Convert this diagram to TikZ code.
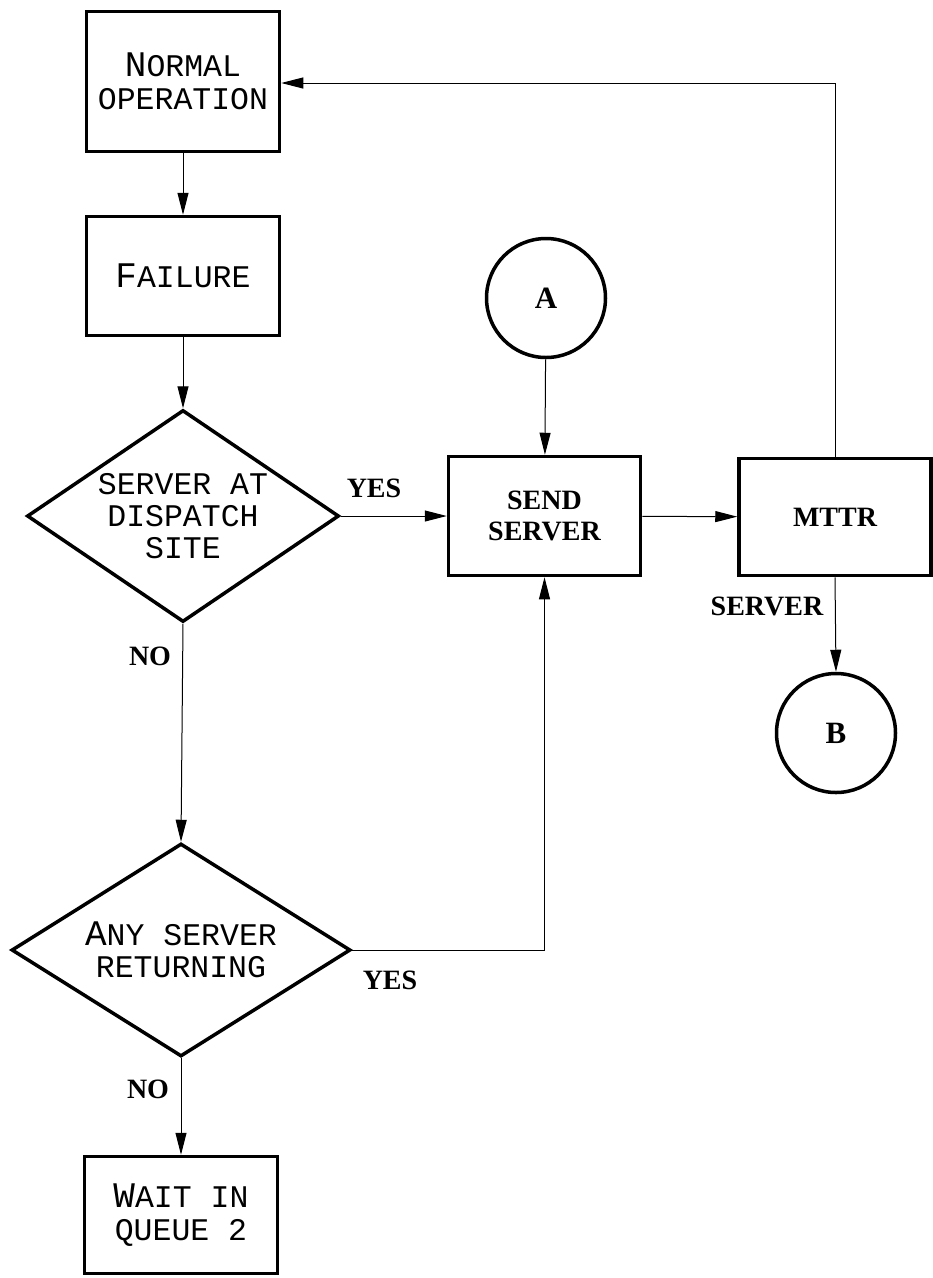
\documentclass[tikz,border=0pt]{standalone}
\usepackage{fontspec}
\setmainfont{Liberation Serif}
\newfontfamily\courfont{Liberation Mono}
\usetikzlibrary{arrows.meta,shapes.geometric}
\newcommand\bigfirst[1]{{\fontsize{36}{33}\selectfont #1}}
\begin{document}
\begin{tikzpicture}[x=1pt,y=-1pt,
  box/.style={draw, line width=3.5pt, minimum width=193pt, inner sep=0pt, align=center,
    font=\courfont\fontsize{31.5}{33}\selectfont},
  tbox/.style={draw, line width=3.5pt, minimum width=192pt, inner sep=0pt, align=center,
    font=\bfseries\fontsize{28}{31}\selectfont},
  dia/.style={draw, shape=diamond, line width=3.5pt, inner sep=0pt, align=center,
    font=\courfont\fontsize{31.5}{32}\selectfont},
  circ/.style={draw, circle, line width=3.5pt, minimum size=119pt, inner sep=0pt,
    font=\bfseries\fontsize{31}{32}\selectfont},
  lbl/.style={inner sep=0pt, font=\bfseries\fontsize{28}{30}\selectfont},
  conn/.style={line width=1pt, -{Triangle[length=22pt,width=11pt]}}
]
\useasboundingbox (0,0) rectangle (933,1278);

\node[box, minimum height=140pt] (normal) at (183,81.5) {\bigfirst{N}ORMAL\\OPERATION};
\node[box, minimum height=119pt] (failure) at (183,276) {\bigfirst{F}AILURE};
\node[dia, aspect=1.47, minimum width=312pt, minimum height=212pt] (d1) at (183,516) {SERVER AT\\DISPATCH\\SITE};
\node[circ] (a) at (546,298) {A};
\node[tbox, minimum height=119pt] (send) at (544.5,516) {SEND\\SERVER};
\node[tbox, minimum height=117pt] (mttr) at (835,517) {MTTR};
\node[circ] (b) at (836,733) {B};
\node[dia, aspect=1.58, minimum width=339pt, minimum height=213pt] (d2) at (181,950) {\bigfirst{A}NY SERVER\\RETURNING};
\node[box, minimum height=117pt] (wait) at (181,1215) {\bigfirst{W}AIT IN\\QUEUE 2};

\node[lbl] (lyes1) at (374,488) {YES};
\node[lbl] (lno1) at (150,656) {NO};
\node[lbl] (lserver) at (767,606) {SERVER};
\node[lbl] (lyes2) at (390,980) {YES};
\node[lbl] (lno2) at (148,1089) {NO};

\draw[conn] (normal) -- (failure);
\draw[conn] (failure) -- (d1);
\draw[conn] (d1.east) -- (send.west);
\draw[conn] (a) -- (send);
\draw[conn] (send) -- (mttr);
\draw[conn] (mttr.north) |- ([yshift=-1.5pt]normal.east);
\draw[conn] (mttr.south) -- (b.north);
\draw[conn] (d1.south) -- (d2.north);
\draw[conn] (d2.east) -| (send.south);
\draw[conn] (d2.south) -- (wait.north);
\end{tikzpicture}
\end{document}
